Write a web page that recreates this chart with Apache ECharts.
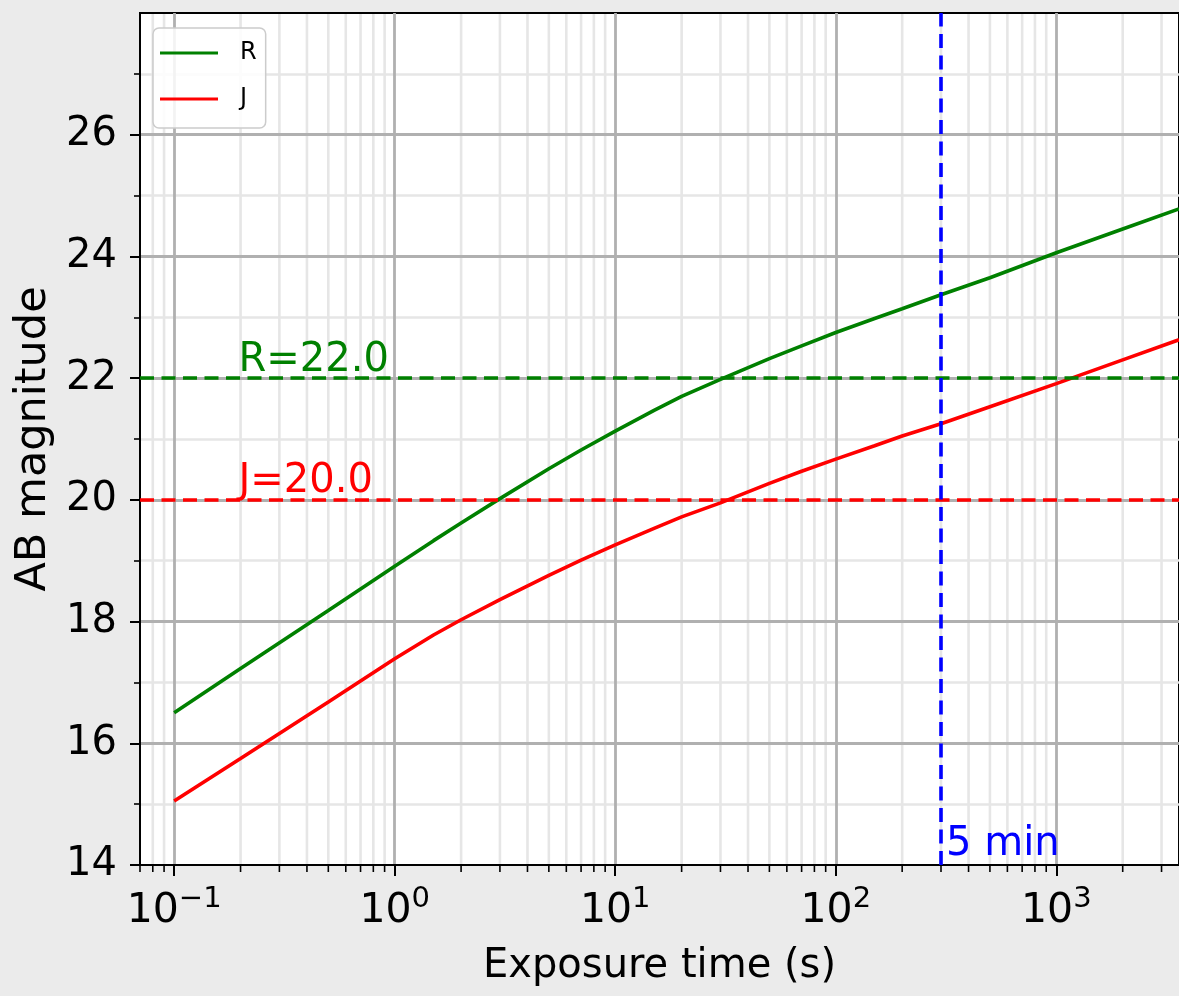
<!DOCTYPE html>
<html>
<head>
<meta charset="utf-8">
<script src="https://cdn.jsdelivr.net/npm/echarts@6/dist/echarts.min.js"></script>
<style>
html,body{margin:0;padding:0;background:#ebebeb;}
#chart{width:1179px;height:996px;}
</style>
</head>
<body>
<div id="chart"></div>
<script>
// ---- data ----
const seriesNames = ['R', 'J'];
const seriesColors = ['#008000', '#ff0000'];
const exposureTimes = [0.1, 0.2, 0.5, 1, 1.5, 2, 3, 5, 7, 10, 15, 20, 30, 50, 70, 100, 150, 200, 300, 500, 1000, 2000, 3600];
const magR = [16.50, 17.23, 18.18, 18.91, 19.33, 19.62, 20.02, 20.51, 20.82, 21.13, 21.47, 21.70, 21.98, 22.32, 22.53, 22.75, 22.98, 23.14, 23.37, 23.65, 24.06, 24.45, 24.78];
const magJ = [15.05, 15.75, 16.68, 17.39, 17.78, 18.03, 18.36, 18.76, 19.01, 19.26, 19.53, 19.72, 19.95, 20.27, 20.47, 20.67, 20.89, 21.05, 21.25, 21.53, 21.91, 22.30, 22.63];
const limitMags = [22.0, 20.0];
const limitLabelTime = 0.2;
const markTime = 300;
const markTimeLabel = '5 min';
const minorTimes = [0.07, 0.08, 0.09, 0.2, 0.3, 0.4, 0.5, 0.6, 0.7, 0.8, 0.9,
  2, 3, 4, 5, 6, 7, 8, 9, 20, 30, 40, 50, 60, 70, 80, 90,
  200, 300, 400, 500, 600, 700, 800, 900, 2000, 3000];
const yTickValues = [14, 16, 18, 20, 22, 24, 26];
const xRange = [0.07, 3600];
const yRange = [14, 28];
const xTitle = 'Exposure time (s)';
const yTitle = 'AB magnitude';

const FONT = 'DejaVu Sans';
const chart = echarts.init(document.getElementById('chart'), null, {renderer: 'canvas'});

function pairs(xs, ys) { return xs.map((x, i) => [x, ys[i]]); }
const magSeries = [magR, magJ];
const DASH = [14, 7.5];
const LW = 3.6;

const series = [
  {
    name: 'minorGrid',
    type: 'custom',
    coordinateSystem: 'cartesian2d',
    clip: false,
    silent: true,
    z: 1,
    data: minorTimes.map(t => [t, yRange[0]]),
    renderItem: function (params, api) {
      const x = api.coord([api.value(0), yRange[0]])[0];
      const cs = params.coordSys;
      const children = [];
      if (x > cs.x + 2) {
        children.push({type: 'line', shape: {x1: x, y1: cs.y + 1, x2: x, y2: cs.y + cs.height - 1},
          style: {stroke: '#e6e6e6', lineWidth: 2.6}});
      }
      children.push({type: 'line', shape: {x1: x, y1: cs.y + cs.height, x2: x, y2: cs.y + cs.height + 7},
        style: {stroke: '#000', lineWidth: 1.6}});
      return {type: 'group', children: children};
    }
  }
];

seriesNames.forEach((name, i) => {
  series.push({
    name: name,
    type: 'line',
    data: pairs(exposureTimes, magSeries[i]),
    showSymbol: false,
    symbol: 'none',
    lineStyle: {color: seriesColors[i], width: LW},
    itemStyle: {color: seriesColors[i]},
    z: 4,
    markLine: {
      silent: true,
      symbol: 'none',
      label: {show: false},
      animation: false,
      lineStyle: {color: seriesColors[i], type: DASH, width: LW},
      data: [{yAxis: limitMags[i]}].concat(i === 1 ? [{xAxis: markTime, lineStyle: {color: '#0000ff', type: DASH, width: LW}}] : [])
    },
    markPoint: {
      silent: true,
      symbol: 'circle',
      symbolSize: 0,
      animation: false,
      data: [{
        coord: [limitLabelTime, limitMags[i]],
        label: {show: true, formatter: name + '=' + limitMags[i].toFixed(1), position: 'insideBottomLeft', distance: 0,
          offset: [-2, 2], color: seriesColors[i], fontFamily: FONT, fontSize: 40}
      }].concat(i === 1 ? [{
        coord: [markTime, yRange[0]],
        label: {show: true, formatter: markTimeLabel, position: 'insideBottomLeft', distance: 0,
          offset: [5, 0], color: '#0000ff', fontFamily: FONT, fontSize: 40}
      }] : [])
    }
  });
});

const option = {
  animation: false,
  backgroundColor: '#ebebeb',
  grid: {
    left: 140, top: 13, bottom: 131, right: -3,
    show: true, backgroundColor: '#ffffff', borderColor: '#000000', borderWidth: 2, z: 0
  },
  legend: {
    data: seriesNames,
    orient: 'vertical',
    left: 153, top: 28,
    icon: 'rect',
    itemWidth: 58, itemHeight: 3,
    itemGap: 0,
    padding: [2, 9, 6, 7],
    backgroundColor: 'rgba(255,255,255,0.85)',
    borderColor: '#cccccc', borderWidth: 1.5, borderRadius: 6,
    textStyle: {fontFamily: FONT, fontSize: 24, color: '#000', lineHeight: 46, padding: [0, 0, 0, 17]},
    z: 10
  },
  xAxis: {
    type: 'log',
    logBase: 10,
    min: xRange[0], max: xRange[1],
    z: 3,
    name: xTitle,
    nameLocation: 'middle',
    nameGap: 82,
    nameTextStyle: {fontFamily: FONT, fontSize: 40, color: '#000'},
    axisLine: {show: true, lineStyle: {color: '#000', width: 2}},
    axisTick: {show: true, inside: false, length: 11, lineStyle: {color: '#000', width: 2}},
    axisLabel: {
      show: true, margin: 20, showMinLabel: false, showMaxLabel: false,
      formatter: function (v) {
        const l = Math.log10(v);
        const e = Math.round(l);
        if (Math.abs(l - e) > 1e-6) return '';
        return '{b|10}{s|' + (e < 0 ? '\u2212' : '') + Math.abs(e) + '}';
      },
      rich: {
        b: {fontFamily: FONT, fontSize: 41, color: '#000', lineHeight: 52},
        s: {fontFamily: FONT, fontSize: 29, color: '#000', lineHeight: 24, verticalAlign: 'top'}
      }
    },
    splitLine: {show: true, showMinLine: false, showMaxLine: false, lineStyle: {color: '#b0b0b0', width: 2.8}},
    minorTick: {show: false},
    minorSplitLine: {show: false}
  },
  yAxis: {
    type: 'value',
    min: yRange[0], max: yRange[1], interval: 2,
    z: 2,
    name: yTitle,
    nameLocation: 'middle',
    nameGap: 78,
    nameTextStyle: {fontFamily: FONT, fontSize: 43, color: '#000'},
    axisLine: {show: true, lineStyle: {color: '#000', width: 2}},
    axisTick: {show: true, inside: false, length: 10, customValues: yTickValues, lineStyle: {color: '#000', width: 2}},
    axisLabel: {show: true, margin: 23, fontFamily: FONT, fontSize: 40, color: '#000',
      customValues: yTickValues},
    splitLine: {show: true, showMinLine: false, lineStyle: {color: '#b0b0b0', width: 2.8}},
    minorTick: {show: true, splitNumber: 2, length: 6, lineStyle: {color: '#000', width: 1.6}},
    minorSplitLine: {show: true, lineStyle: {color: '#e6e6e6', width: 2.6}}
  },
  series: series
};
chart.setOption(option);
</script>
</body>
</html>
